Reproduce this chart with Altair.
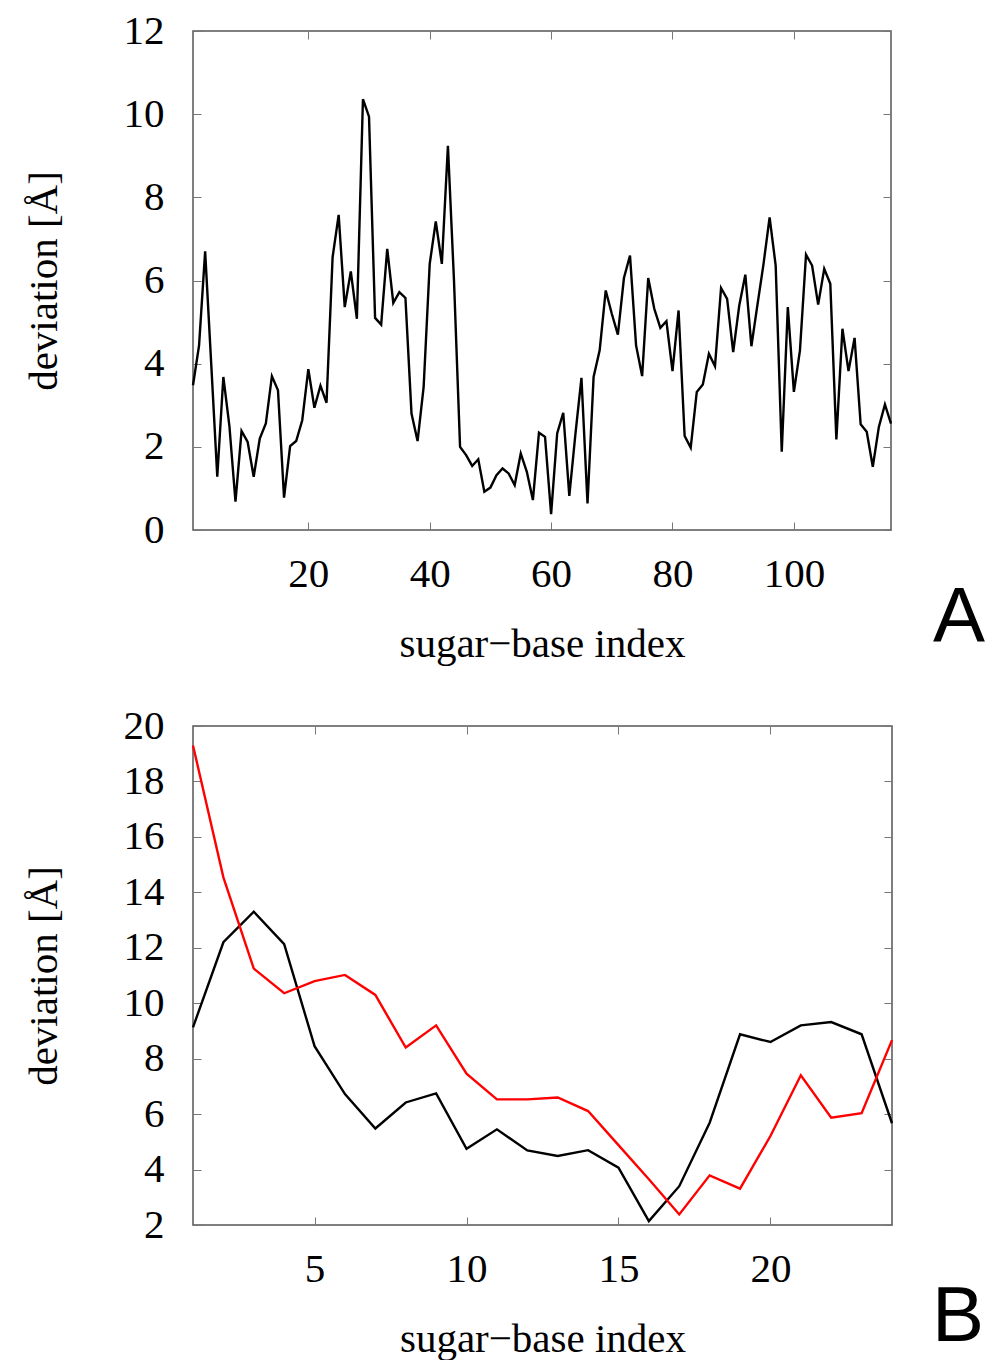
import altair as alt
import pandas as pd

# ---------------- data ----------------
top_index = list(range(1, 117))
top_dev = [
    3.48, 4.44, 6.70, 4.00, 1.28, 3.68, 2.50, 0.68, 2.38, 2.12,
    1.28, 2.20, 2.56, 3.70, 3.36, 0.78, 2.02, 2.14, 2.64, 3.87,
    2.94, 3.47, 3.06, 6.56, 7.58, 5.36, 6.22, 5.08, 10.36, 9.94,
    5.10, 4.94, 6.76, 5.46, 5.72, 5.58, 2.80, 2.14, 3.44, 6.40,
    7.42, 6.40, 9.24, 6.00, 2.00, 1.80, 1.54, 1.70, 0.92, 1.02,
    1.32, 1.48, 1.36, 1.08, 1.84, 1.40, 0.72, 2.34, 2.24, 0.38,
    2.32, 2.82, 0.82, 2.30, 3.66, 0.64, 3.68, 4.32, 5.76, 5.20,
    4.70, 6.06, 6.60, 4.44, 3.70, 6.06, 5.32, 4.86, 5.02, 3.82,
    5.28, 2.26, 1.98, 3.32, 3.50, 4.24, 3.94, 5.82, 5.56, 4.28,
    5.40, 6.14, 4.42, 5.42, 6.40, 7.52, 6.36, 1.88, 5.36, 3.32,
    4.32, 6.62, 6.36, 5.42, 6.28, 5.92, 2.18, 4.84, 3.82, 4.62,
    2.54, 2.36, 1.52, 2.48, 3.02, 2.56,
]

bot_index = list(range(1, 25))
bot_black = [9.13, 12.2, 13.3, 12.13, 8.45, 6.72, 5.48, 6.42, 6.75, 4.75,
             5.45, 4.69, 4.49, 4.70, 4.07, 2.14, 3.40, 5.69, 8.88, 8.60,
             9.20, 9.32, 8.88, 5.67]
bot_red = [19.3, 14.54, 11.25, 10.36, 10.8, 11.02, 10.3, 8.4, 9.2, 7.46,
           6.53, 6.53, 6.60, 6.11, 4.88, 3.65, 2.38, 3.79, 3.31, 5.21,
           7.40, 5.87, 6.03, 8.67]

top_xticks = [20, 40, 60, 80, 100]
top_yticks = [0, 2, 4, 6, 8, 10, 12]
bot_xticks = [5, 10, 15, 20]
bot_yticks = [2, 4, 6, 8, 10, 12, 14, 16, 18, 20]

x_title = "sugar\u2212base index"
y_title = "deviation [\u00c5]"

# ---------------- style ----------------
FONT = "Liberation Serif"
LBL = 41
TTL = 41
TICK = 8
TICKCOL = "#777777"


def main_x_axis(vals):
    return alt.Axis(orient="bottom", values=vals, title=x_title, domain=False,
                    offset=-TICK, tickSize=TICK, tickColor=TICKCOL, tickWidth=1,
                    labelFont=FONT, labelFontSize=LBL, labelColor="black",
                    labelPadding=24, titleFont=FONT, titleFontSize=TTL,
                    titleFontWeight="normal", titleColor="black",
                    titlePadding=30, grid=False, labelFlush=False)


def main_y_axis(vals):
    return alt.Axis(orient="left", values=vals, title=y_title, domain=False,
                    offset=-TICK, tickSize=TICK, tickColor=TICKCOL, tickWidth=1,
                    labelFont=FONT, labelFontSize=LBL, labelColor="black",
                    labelPadding=29, titleFont=FONT, titleFontSize=TTL,
                    titleFontWeight="normal", titleColor="black",
                    titlePadding=58, grid=False, labelFlush=False)


def mirror_axis(orient, vals):
    return alt.Axis(orient=orient, values=vals, title=None, domain=False,
                    labels=False, offset=-TICK, tickSize=TICK,
                    tickColor=TICKCOL, tickWidth=1, grid=False)


def panel(df, xdom, ydom, xvals, yvals, letter, lx, ly, W, H):
    xs = alt.Scale(domain=xdom, nice=False, zero=False)
    ys = alt.Scale(domain=ydom, nice=False, zero=False)
    lines = alt.Chart(df).mark_line(strokeWidth=2.4).encode(
        x=alt.X("i:Q", scale=xs, axis=main_x_axis(xvals)),
        y=alt.Y("v:Q", scale=ys, axis=main_y_axis(yvals)),
        color=alt.Color("s:N", scale=alt.Scale(domain=["black", "red"],
                                               range=["#000000", "#ff0000"]),
                        legend=None),
        detail="s:N",
    )
    mirror = alt.Chart(df).mark_line(opacity=0).encode(
        x=alt.X("i:Q", scale=xs, axis=mirror_axis("top", xvals)),
        y=alt.Y("v:Q", scale=ys, axis=mirror_axis("right", yvals)),
    )
    lab = alt.Chart(pd.DataFrame({"t": [letter]})).mark_text(
        font="Liberation Sans", fontSize=78, color="black",
        align="center", baseline="alphabetic"
    ).encode(text="t:N", x=alt.value(lx), y=alt.value(ly))
    return alt.layer(lines, mirror, lab).resolve_axis(
        x="independent", y="independent"
    ).properties(width=W, height=H)


top_df = pd.DataFrame({"i": top_index, "v": top_dev, "s": "black"})
bot_df = pd.concat([
    pd.DataFrame({"i": bot_index, "v": bot_black, "s": "black"}),
    pd.DataFrame({"i": bot_index, "v": bot_red, "s": "red"}),
])

top = panel(top_df, [1, 116], [0, 12], top_xticks, top_yticks, "A", 766, 611, 698, 499)
bot = panel(bot_df, [1, 24], [2, 20], bot_xticks, bot_yticks, "B", 765, 615, 699, 499)

chart = alt.vconcat(top, bot, spacing=39).properties(
    padding={"left": 22, "top": 9, "right": 0, "bottom": 0},
    background="white",
).configure_view(stroke="#555555", strokeWidth=1.5)

chart.save("out.html", embed_options={"renderer": "svg", "actions": False})
